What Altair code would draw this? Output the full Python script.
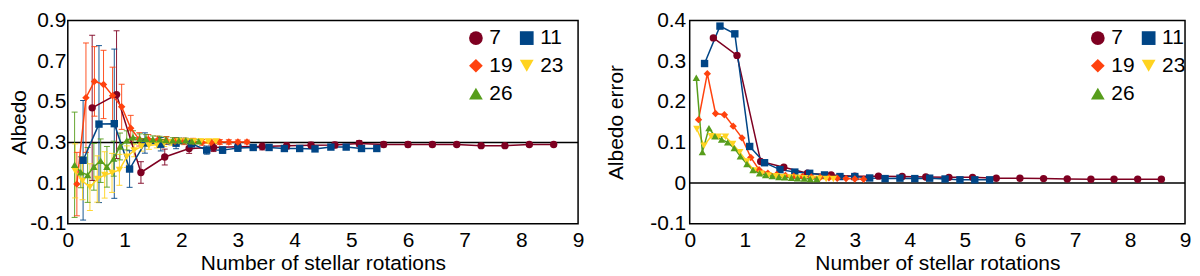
import altair as alt
import pandas as pd

FONT = "Liberation Sans"

series_names = ["7", "11", "19", "23", "26"]
series_colors = ["#7e0021", "#004586", "#ff420e", "#ffd320", "#579d1c"]
series_shapes = ["circle", "square", "diamond", "triangle-down", "triangle-up"]

# Number of stellar rotations for each series
x_7 = [0.43, 0.86, 1.29, 1.71, 2.14, 2.57, 3.0, 3.43, 3.86, 4.29,
       4.71, 5.14, 5.57, 6.0, 6.43, 6.86, 7.29, 7.71, 8.14, 8.57]
x_11 = [0.27, 0.55, 0.82, 1.09, 1.36, 1.64, 1.91, 2.18, 2.45, 2.73,
        3.0, 3.27, 3.55, 3.82, 4.09, 4.36, 4.64, 4.91, 5.18, 5.45]
x_19 = [0.16, 0.32, 0.47, 0.63, 0.79, 0.95, 1.11, 1.26, 1.42, 1.58,
        1.74, 1.89, 2.05, 2.21, 2.37, 2.53, 2.68, 2.84, 3.0, 3.16]
x_23 = [0.13, 0.26, 0.39, 0.52, 0.65, 0.78, 0.91, 1.04, 1.17, 1.30,
        1.43, 1.57, 1.70, 1.83, 1.96, 2.09, 2.22, 2.35, 2.48, 2.61]
x_26 = [0.12, 0.23, 0.35, 0.46, 0.58, 0.69, 0.81, 0.92, 1.04, 1.15,
        1.27, 1.38, 1.50, 1.62, 1.73, 1.85, 1.96, 2.08, 2.19, 2.31]

# Albedo
albedo_7 = [0.47, 0.535, 0.152, 0.228, 0.27, 0.275, 0.278, 0.28, 0.283, 0.286,
            0.287, 0.295, 0.29, 0.29, 0.29, 0.29, 0.284, 0.284, 0.29, 0.29]
albedo_11 = [0.212, 0.39, 0.392, 0.169, 0.297, 0.291, 0.296, 0.293, 0.262, 0.262,
             0.272, 0.275, 0.275, 0.27, 0.27, 0.268, 0.277, 0.277, 0.27, 0.27]
albedo_19 = [0.095, 0.52, 0.60, 0.585, 0.53, 0.475, 0.37, 0.315, 0.315, 0.31,
             0.31, 0.305, 0.305, 0.305, 0.30, 0.30, 0.302, 0.302, 0.302, 0.302]
albedo_23 = [0.16, 0.11, 0.08, 0.12, 0.14, 0.15, 0.165, 0.23, 0.26, 0.28,
             0.285, 0.29, 0.295, 0.30, 0.305, 0.305, 0.305, 0.305, 0.305, 0.305]
albedo_26 = [0.19, 0.153, 0.14, 0.18, 0.21, 0.18, 0.22, 0.28, 0.31, 0.325,
             0.318, 0.318, 0.315, 0.315, 0.312, 0.31, 0.31, 0.31, 0.305, 0.305]

# Albedo error
err_7 = [0.357, 0.314, 0.053, 0.039, 0.024, 0.020, 0.017, 0.017, 0.016, 0.015,
         0.014, 0.014, 0.012, 0.012, 0.011, 0.010, 0.0093, 0.0093, 0.0093, 0.0093]
err_11 = [0.294, 0.386, 0.367, 0.090, 0.050, 0.033, 0.027, 0.024, 0.020, 0.016,
          0.016, 0.0125, 0.011, 0.012, 0.011, 0.012, 0.010, 0.008, 0.008, 0.008]
err_19 = [0.156, 0.269, 0.171, 0.168, 0.140, 0.111, 0.063, 0.033, 0.024, 0.021,
          0.019, 0.017, 0.016, 0.015, 0.014, 0.013, 0.012, 0.011, 0.010, 0.0093]
err_23 = [0.133, 0.092, 0.115, 0.114, 0.114, 0.096, 0.076, 0.053, 0.031, 0.023,
          0.019, 0.017, 0.015, 0.014, 0.013, 0.012, 0.011, 0.011, 0.010, 0.010]
err_26 = [0.259, 0.076, 0.135, 0.115, 0.107, 0.100, 0.086, 0.066, 0.047, 0.032,
          0.024, 0.020, 0.017, 0.015, 0.014, 0.013, 0.012, 0.011, 0.010, 0.010]

x_ticks = [0, 1, 2, 3, 4, 5, 6, 7, 8, 9]
albedo_ticks = [-0.1, 0.1, 0.3, 0.5, 0.7, 0.9]
error_ticks = [-0.1, 0.0, 0.1, 0.2, 0.3, 0.4]
albedo_ref = [0.3]
error_ref = [0.0]

rows = []
for name, xs, al, er in zip(series_names,
                            [x_7, x_11, x_19, x_23, x_26],
                            [albedo_7, albedo_11, albedo_19, albedo_23, albedo_26],
                            [err_7, err_11, err_19, err_23, err_26]):
    for x, a, e in zip(xs, al, er):
        rows.append({"series": name, "skey": "s" + name, "x": x, "albedo": a,
                     "err": e, "lo": a - e, "hi": a + e})
df = pd.DataFrame(rows)
stroke_keys = ["s" + n for n in series_names]

x_scale = alt.Scale(domain=[0, 9], nice=False, zero=False)

LABEL_EXPR = ("datum.value < -0.0001 ? '-' + format(abs(datum.value), '.1f') : "
              "(abs(datum.value) < 0.0001 ? '0' : format(datum.value, '.1f'))")

x_axis = alt.Axis(title="Number of stellar rotations", values=x_ticks, format="d",
                  labelFlush=False, labelPadding=6, titlePadding=2, labelOverlap=False)


def legend():
    return alt.Legend(title=None, orient="none", legendX=399, legendY=7, columns=2,
                      direction="horizontal",
                      symbolSize=190, symbolStrokeWidth=0, labelFontSize=21,
                      labelFont=FONT, labelColor="black", columnPadding=3,
                      rowPadding=6, labelOffset=3, padding=0)


def xenc():
    return alt.X("x:Q", scale=x_scale, axis=x_axis)


def panel(yfield, ydomain, yticks, ytitle, ref_vals, title_pad, label_pad, width, with_err):
    y_axis = alt.Axis(title=ytitle, values=yticks, labelExpr=LABEL_EXPR,
                      titlePadding=title_pad, labelPadding=label_pad, labelOverlap=False)
    y_scale = alt.Scale(domain=ydomain, nice=False, zero=False)
    base = alt.Chart(df)
    layers = []
    ref = alt.Chart(pd.DataFrame({"ref": ref_vals})).mark_rule(
        color="black", strokeWidth=1.5).encode(
        y=alt.Y("ref:Q", scale=y_scale, axis=y_axis))
    layers.append(ref)
    stroke_enc = alt.Stroke("skey:N", scale=alt.Scale(domain=stroke_keys, range=series_colors),
                            legend=None)
    fill_enc = alt.Fill("skey:N", scale=alt.Scale(domain=stroke_keys, range=series_colors),
                        legend=None)
    if with_err:
        bars = base.mark_rule(strokeWidth=1, opacity=0.9).encode(
            x=xenc(), y=alt.Y("lo:Q", scale=y_scale, axis=y_axis), y2="hi:Q",
            stroke=stroke_enc)
        cap_lo = base.mark_tick(orient="horizontal", size=6, thickness=1, opacity=0.9).encode(
            x=xenc(), y=alt.Y("lo:Q", scale=y_scale, axis=y_axis), fill=fill_enc)
        cap_hi = base.mark_tick(orient="horizontal", size=6, thickness=1, opacity=0.9).encode(
            x=xenc(), y=alt.Y("hi:Q", scale=y_scale, axis=y_axis), fill=fill_enc)
        layers += [bars, cap_lo, cap_hi]
    line = base.mark_line(strokeWidth=1.5).encode(
        x=xenc(), y=alt.Y(f"{yfield}:Q", scale=y_scale, axis=y_axis),
        stroke=stroke_enc, detail="skey:N")
    pts = base.mark_point(filled=True, size=55, opacity=1).encode(
        x=xenc(), y=alt.Y(f"{yfield}:Q", scale=y_scale, axis=y_axis),
        color=alt.Color("series:N", scale=alt.Scale(domain=series_names, range=series_colors),
                        legend=legend()),
        shape=alt.Shape("series:N", scale=alt.Scale(domain=series_names, range=series_shapes),
                        legend=legend()))
    layers += [line, pts]
    return alt.layer(*layers).properties(width=width, height=204)


left = panel("albedo", [-0.1, 0.9], albedo_ticks, "Albedo", albedo_ref, 0, 2, 512, True)
right = panel("err", [-0.1, 0.4], error_ticks, "Albedo error", error_ref, 23, 4, 497, False)

chart = alt.hconcat(left, right, spacing=20).resolve_scale(
    y="independent", color="independent", shape="independent",
    stroke="independent", fill="independent"
).properties(
    padding={"left": 0, "top": 0, "right": 0, "bottom": 0},
    background="white"
).configure_view(
    stroke="black", strokeWidth=1.5
).configure_axis(
    domain=False, grid=False, ticks=False,
    labelFont=FONT, labelFontSize=21, labelColor="black",
    titleFont=FONT, titleFontSize=21, titleFontWeight="normal", titleColor="black"
)

chart.save("out.html", embed_options={"renderer": "svg", "actions": False})
